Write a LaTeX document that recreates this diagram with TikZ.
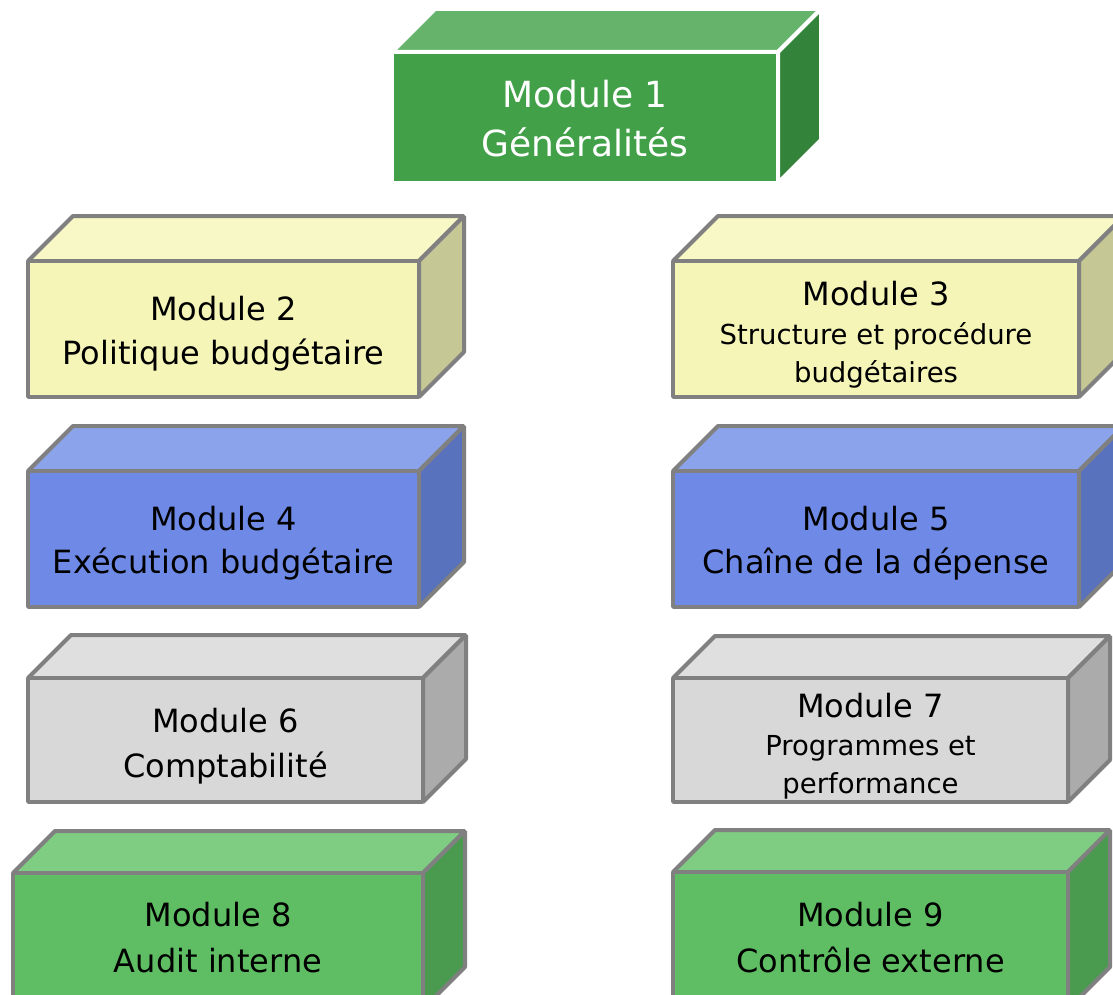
\documentclass[tikz,border=0pt]{standalone}
\usepackage{fontspec}
\setmainfont{DejaVu Sans}
\definecolor{gaF}{HTML}{41A048}\definecolor{gaT}{HTML}{66B46B}\definecolor{gaR}{HTML}{33833A}
\definecolor{yeF}{HTML}{F5F5B8}\definecolor{yeT}{HTML}{F7F8C6}\definecolor{yeR}{HTML}{C5C795}
\definecolor{blF}{HTML}{6E8AE6}\definecolor{blT}{HTML}{8BA3EA}\definecolor{blR}{HTML}{5872BD}
\definecolor{grF}{HTML}{D8D8D8}\definecolor{grT}{HTML}{DFDFDF}\definecolor{grR}{HTML}{ABABAB}
\definecolor{gbF}{HTML}{5FBE63}\definecolor{gbT}{HTML}{7FCC83}\definecolor{gbR}{HTML}{4A9A4F}
\definecolor{edgegray}{HTML}{808080}
\tikzset{
  boxedge/.style={draw=#1, line width=4pt, line join=bevel},
  bigtxt/.style={anchor=base, inner sep=0pt, font=\fontsize{32}{38}\selectfont},
  toptxt/.style={anchor=base, inner sep=0pt, text=white, font=\fontsize{36}{42}\selectfont},
  smalltxt/.style={anchor=base, inner sep=0pt, font=\fontsize{27.5}{33}\selectfont},
}
% #1 x1, #2 y1, #3 x2, #4 y2, #5 depth, #6 colour prefix, #7 edge colour
\newcommand\cuboidbox[7]{%
  \path[boxedge=#7, fill=#6T] (#1,#2) -- (#1+#5,#2-#5) -- (#3+#5,#2-#5) -- (#3,#2) -- cycle;
  \path[boxedge=#7, fill=#6R] (#3,#2) -- (#3+#5,#2-#5) -- (#3+#5,#4-#5) -- (#3,#4) -- cycle;
  \path[boxedge=#7, fill=#6F] (#1,#2) rectangle (#3,#4);
}
\begin{document}
\begin{tikzpicture}[x=1pt,y=-1pt]
\useasboundingbox (0,0) rectangle (1113,995);
\clip (0,0) rectangle (1113,995);
\cuboidbox{392}{52}{778}{183}{43}{ga}{white}
\cuboidbox{28}{261}{419}{397}{45}{ye}{edgegray}
\cuboidbox{673}{261}{1079}{397}{45}{ye}{edgegray}
\cuboidbox{28}{471}{419}{607}{45}{bl}{edgegray}
\cuboidbox{673}{471}{1079}{607}{45}{bl}{edgegray}
\cuboidbox{28}{678}{423}{802}{43}{gr}{edgegray}
\cuboidbox{673}{678}{1068}{802}{42}{gr}{edgegray}
\cuboidbox{13}{873}{423}{1009}{42}{gb}{edgegray}
\cuboidbox{673}{872}{1068}{1009}{42}{gb}{edgegray}

\node[toptxt] (t1a) at (585,108) {Module 1};
\node[toptxt] (t1b) at (585,157) {Généralités};
\node[bigtxt] (t2a) at (223.5,320) {Module 2};
\node[bigtxt] (t2b) at (223.5,364) {Politique budgétaire};
\node[bigtxt] (t3a) at (876,305) {Module 3};
\node[smalltxt] (t3b) at (876,344) {Structure et procédure};
\node[smalltxt] (t3c) at (876,382) {budgétaires};
\node[bigtxt] (t4a) at (223.5,530) {Module 4};
\node[bigtxt] (t4b) at (223.5,573) {Exécution budgétaire};
\node[bigtxt] (t5a) at (876,530) {Module 5};
\node[bigtxt] (t5b) at (876,573) {Chaîne de la dépense};
\node[bigtxt] (t6a) at (225.5,732) {Module 6};
\node[bigtxt] (t6b) at (225.5,777) {Comptabilité};
\node[bigtxt] (t7a) at (870.5,717) {Module 7};
\node[smalltxt] (t7b) at (870.5,755) {Programmes et};
\node[smalltxt] (t7c) at (870.5,793) {performance};
\node[bigtxt] (t8a) at (218,926) {Module 8};
\node[bigtxt] (t8b) at (218,972) {Audit interne};
\node[bigtxt] (t9a) at (870.5,926) {Module 9};
\node[bigtxt] (t9b) at (870.5,972) {Contrôle externe};
\end{tikzpicture}
\end{document}
